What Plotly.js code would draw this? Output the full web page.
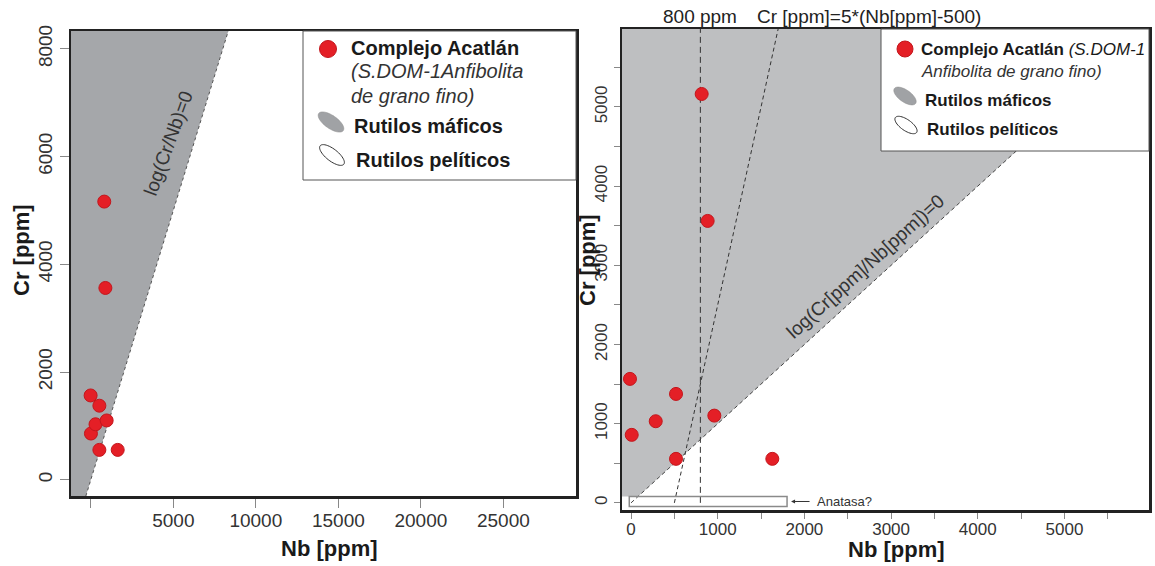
<!DOCTYPE html>
<html>
<head>
<meta charset="utf-8">
<script src="https://cdn.plot.ly/plotly-3.0.1.min.js"></script>
<style>
  html, body { margin: 0; padding: 0; background: #fff; }
  #chart { width: 1155px; height: 566px; }
</style>
</head>
<body>
<div id="chart"></div>
<script>
// Rutile samples, Complejo Acatlán (S.DOM-1, fine-grained amphibolite)
const nbPpm = [815, 884, -12, 8, 285, 519, 519, 961, 1630];
const crPpm = [5164, 3561, 1566, 859, 1031, 1376, 556, 1102, 556];

// Tick values and labels
const leftXTicks = [0, 5000, 10000, 15000, 20000, 25000];
const leftXLabels = ['', '5000', '10000', '15000', '20000', '25000'];
const leftYTicks = [0, 2000, 4000, 6000, 8000];
const rightXTicks = [0, 1000, 2000, 3000, 4000, 5000];
const rightYTicks = [0, 1000, 2000, 3000, 4000, 5000];

// Axis ranges
const leftXRange = [-1200, 29400];
const leftYRange = [-300, 8330];
const rightXRange = [-104, 5975];
const rightYRange = [-90, 5985];

// Reference lines of the discrimination diagram
const nbThreshold = 800;           // Nb = 800 ppm
const crSlope = 5, nbOffset = 500; // Cr = 5*(Nb-500)
const anatase = {nb0: -20, nb1: 1800, cr0: -45, cr1: 80};

const W = 1155, H = 566;
const FONT = 'Liberation Sans, Arial, Helvetica, sans-serif';
const px = v => v / W;
const py = v => 1 - v / H;

function ellipsePath(cx, cy, rx, ry, deg) {
  const a = deg * Math.PI / 180;
  let d = '';
  for (let i = 0; i <= 48; i++) {
    const t = i / 48 * 2 * Math.PI;
    const ex = rx * Math.cos(t), ey = ry * Math.sin(t);
    const X = cx + ex * Math.cos(a) - ey * Math.sin(a);
    const Y = cy + ex * Math.sin(a) + ey * Math.cos(a);
    d += (i === 0 ? 'M' : 'L') + px(X).toFixed(5) + ',' + py(Y).toFixed(5);
  }
  return d + 'Z';
}
function dot(cx, cy, r) {
  return {type: 'circle', xref: 'paper', yref: 'paper', layer: 'above',
    x0: px(cx - r), x1: px(cx + r), y0: py(cy + r), y1: py(cy - r),
    fillcolor: '#e41f26', line: {color: '#c3161c', width: 1}};
}
function label(x, y, text, size, extra) {
  return Object.assign({xref: 'paper', yref: 'paper', x: px(x), y: py(y),
    xanchor: 'left', yanchor: 'middle', showarrow: false, text: text,
    font: {family: FONT, size: size, color: '#1a1a1a'}}, extra || {});
}

const leftGrey = '#a5a7aa';
const rightGrey = '#bebfc1';
const red = '#e41f26';

// Mafic field (Cr > Nb) on the left panel
const lMin = leftYRange[0], lMax = leftYRange[1];
const leftField = {
  x: [leftXRange[0], lMin, lMax, leftXRange[0]],
  y: [lMin, lMin, lMax, lMax],
  xaxis: 'x', yaxis: 'y', mode: 'lines', fill: 'toself', fillcolor: leftGrey,
  line: {width: 0}, hoverinfo: 'skip', showlegend: false
};
const leftBoundary = {
  x: [lMin, lMax], y: [lMin, lMax], xaxis: 'x', yaxis: 'y', mode: 'lines',
  line: {color: '#555', width: 1, dash: '3px,3px'}, hoverinfo: 'skip', showlegend: false
};
const leftPoints = {
  x: nbPpm, y: crPpm, xaxis: 'x', yaxis: 'y', mode: 'markers', name: 'Complejo Acatlán',
  marker: {size: 13, color: red, line: {color: '#c3161c', width: 1}}, showlegend: false
};

// Mafic field on the right panel
const rMax = rightYRange[1];
const rightField = {
  x: [rightXRange[0], rMax, anatase.cr1, rightXRange[0]],
  y: [rMax, rMax, anatase.cr1, anatase.cr1],
  xaxis: 'x2', yaxis: 'y2', mode: 'lines', fill: 'toself', fillcolor: rightGrey,
  line: {width: 0}, hoverinfo: 'skip', showlegend: false
};
const rightBoundary = {
  x: [0, rMax], y: [0, rMax], xaxis: 'x2', yaxis: 'y2', mode: 'lines',
  line: {color: '#444', width: 1, dash: '4px,3px'}, hoverinfo: 'skip', showlegend: false
};
const nbLine = {
  x: [nbThreshold, nbThreshold], y: [0, rMax], xaxis: 'x2', yaxis: 'y2', mode: 'lines',
  line: {color: '#333', width: 1, dash: '6px,4px'}, hoverinfo: 'skip', showlegend: false
};
const crLine = {
  x: [nbOffset, nbOffset + rMax / crSlope], y: [0, rMax], xaxis: 'x2', yaxis: 'y2', mode: 'lines',
  line: {color: '#333', width: 1, dash: '4px,3px'}, hoverinfo: 'skip', showlegend: false
};
const rightPoints = {
  x: nbPpm, y: crPpm, xaxis: 'x2', yaxis: 'y2', mode: 'markers', name: 'Complejo Acatlán',
  marker: {size: 13, color: red, line: {color: '#c3161c', width: 1}}, showlegend: false
};

const axisLine = {showline: true, linecolor: '#222', linewidth: 2.5, mirror: true,
  showgrid: false, zeroline: false};
const tickFontL = {family: FONT, size: 19, color: '#333'};
const tickFontR = {family: FONT, size: 17, color: '#333'};

const layout = {
  width: W, height: H, autosize: false,
  margin: {l: 0, r: 0, t: 0, b: 0},
  paper_bgcolor: '#fff', plot_bgcolor: '#fff',
  showlegend: false,
  font: {family: FONT, color: '#222'},
  xaxis: Object.assign({}, axisLine, {
    domain: [px(71), px(576)], range: leftXRange, anchor: 'y',
    tickmode: 'array', tickvals: leftXTicks, ticktext: leftXLabels,
    ticks: 'outside', ticklen: 9, tickcolor: '#888', tickwidth: 1, tickfont: tickFontL,
    ticklabelstandoff: -3
  }),
  yaxis: Object.assign({}, axisLine, {
    domain: [py(496), py(31)], range: leftYRange, anchor: 'x',
    tickmode: 'array', tickvals: leftYTicks, tickangle: -90,
    ticks: 'outside', ticklen: 9, tickcolor: '#888', tickwidth: 1, tickfont: tickFontL
  }),
  xaxis2: Object.assign({}, axisLine, {
    domain: [px(622), px(1149)], range: rightXRange, anchor: 'y2',
    tickmode: 'array', tickvals: rightXTicks,
    ticks: 'outside', ticklen: 6, tickcolor: '#888', tickwidth: 1, tickfont: tickFontR,
    ticklabelstandoff: -4,
    minor: {dtick: 500, tick0: 0, ticks: 'outside', ticklen: 6, tickcolor: '#888', tickwidth: 1}
  }),
  yaxis2: Object.assign({}, axisLine, {
    domain: [py(510), py(29)], range: rightYRange, anchor: 'x2',
    tickmode: 'array', tickvals: rightYTicks, tickangle: -90,
    ticks: 'outside', ticklen: 6, tickcolor: '#888', tickwidth: 1, tickfont: tickFontR,
    minor: {dtick: 500, tick0: 0, ticks: 'outside', ticklen: 6, tickcolor: '#888', tickwidth: 1}
  }),
  shapes: [
    // anatase box
    {type: 'rect', xref: 'x2', yref: 'y2', layer: 'above',
      x0: anatase.nb0, x1: anatase.nb1, y0: anatase.cr0, y1: anatase.cr1,
      line: {color: '#8a8a8a', width: 1.5}},
    // legend boxes
    {type: 'rect', xref: 'paper', yref: 'paper', layer: 'above',
      x0: px(303), x1: px(576), y0: py(180), y1: py(31),
      fillcolor: '#fff', line: {color: '#555', width: 1}},
    {type: 'rect', xref: 'paper', yref: 'paper', layer: 'above',
      x0: px(881), x1: px(1149), y0: py(151), y1: py(29),
      fillcolor: '#fff', line: {color: '#555', width: 1}},
    // legend symbols
    dot(328, 49, 8.5),
    {type: 'path', xref: 'paper', yref: 'paper', layer: 'above',
      path: ellipsePath(331, 122, 15, 6.5, 35), fillcolor: '#a0a2a5', line: {color: '#8c8c8c', width: 0.5}},
    {type: 'path', xref: 'paper', yref: 'paper', layer: 'above',
      path: ellipsePath(332, 155, 15, 6, 38), fillcolor: '#fff', line: {color: '#333', width: 1}},
    dot(905, 49, 8),
    {type: 'path', xref: 'paper', yref: 'paper', layer: 'above',
      path: ellipsePath(905, 96, 13, 6, 35), fillcolor: '#a0a2a5', line: {color: '#8c8c8c', width: 0.5}},
    {type: 'path', xref: 'paper', yref: 'paper', layer: 'above',
      path: ellipsePath(906, 125, 13, 5.5, 35), fillcolor: '#fff', line: {color: '#333', width: 1}}
  ],
  annotations: [
    // left legend
    label(349, 48, '<b>Complejo Acatlán</b>', 20),
    label(349, 71, '<i>(S.DOM-1Anfibolita</i>', 20, {font: {family: FONT, size: 20, color: '#333'}}),
    label(349, 96, '<i>de grano fino)</i>', 20, {font: {family: FONT, size: 20, color: '#333'}}),
    label(352, 126, '<b>Rutilos máficos</b>', 20),
    label(354, 160, '<b>Rutilos pelíticos</b>', 20),
    // right legend
    label(919, 50, '<b>Complejo Acatlán</b> <i>(S.DOM-1</i>', 17),
    label(919, 71, '<i>Anfibolita de grano fino)</i>', 17, {font: {family: FONT, size: 17, color: '#333'}}),
    label(923, 100, '<b>Rutilos máficos</b>', 17),
    label(925, 130, '<b>Rutilos pelíticos</b>', 17),
    // field boundary labels
    {xref: 'x', yref: 'y', x: 4700, y: 6240, showarrow: false, textangle: -70,
      xanchor: 'center', yanchor: 'middle',
      text: 'log(Cr/Nb)=0', font: {family: FONT, size: 19, color: '#333'}},
    {xref: 'x2', yref: 'y2', x: 2700, y: 2990, showarrow: false, textangle: -42,
      xanchor: 'center', yanchor: 'middle',
      text: 'log(Cr[ppm]/Nb[ppm])=0', font: {family: FONT, size: 19, color: '#333'}},
    // line labels above the right panel
    {xref: 'x2', yref: 'paper', x: nbThreshold, y: py(17), showarrow: false,
      xanchor: 'center', yanchor: 'middle',
      text: '800 ppm', font: {family: FONT, size: 19, color: '#222'}},
    label(755, 17, 'Cr [ppm]=5*(Nb[ppm]-500)', 19, {font: {family: FONT, size: 19, color: '#222'}}),
    // anatase label
    {xref: 'x2', yref: 'y2', x: anatase.nb1, y: (anatase.cr0 + anatase.cr1) / 2,
      ax: 24, ay: 0, showarrow: true, arrowhead: 2, arrowsize: 0.8, arrowwidth: 1, arrowcolor: '#333',
      standoff: 4, text: '', font: {size: 1}},
    {xref: 'x2', yref: 'y2', x: anatase.nb1, y: (anatase.cr0 + anatase.cr1) / 2,
      xshift: 28, xanchor: 'left', yanchor: 'middle', showarrow: false,
      text: 'Anatasa?', font: {family: FONT, size: 13, color: '#333'}},
    // axis titles
    label(329, 548, '<b>Nb [ppm]</b>', 22, {xanchor: 'center'}),
    label(896, 549, '<b>Nb [ppm]</b>', 22, {xanchor: 'center'}),
    label(21, 250, '<b>Cr [ppm]</b>', 22, {xanchor: 'center', textangle: -90}),
    label(588, 260, '<b>Cr [ppm]</b>', 22, {xanchor: 'center', textangle: -90})
  ]
};

Plotly.newPlot('chart',
  [leftField, leftBoundary, leftPoints, rightField, rightBoundary, nbLine, crLine, rightPoints],
  layout, {staticPlot: true, displayModeBar: false});
</script>
</body>
</html>
